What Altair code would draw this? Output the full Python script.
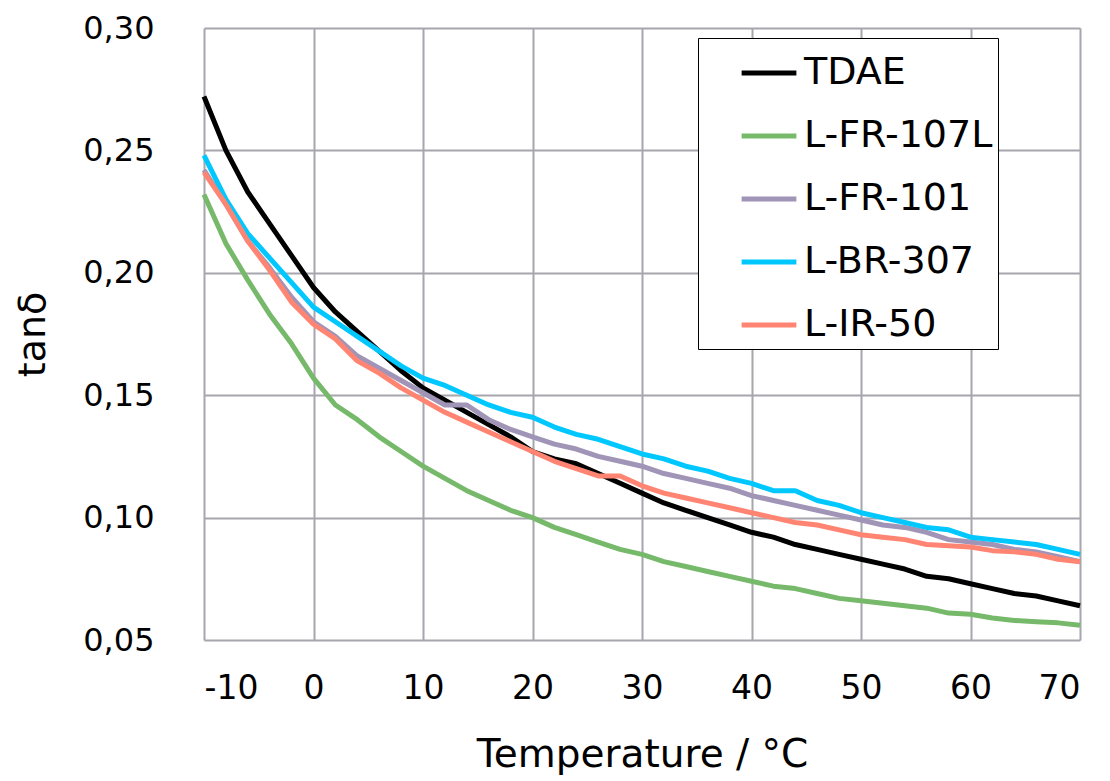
import altair as alt
import pandas as pd

temps = list(range(-10, 71, 2))

tdae = [0.272, 0.250, 0.233, 0.220, 0.207, 0.194, 0.184, 0.176, 0.168, 0.160,
        0.153, 0.148, 0.143, 0.138, 0.133, 0.127, 0.124, 0.122, 0.118, 0.114,
        0.110, 0.106, 0.103, 0.100, 0.097, 0.094, 0.092, 0.089, 0.087, 0.085,
        0.083, 0.081, 0.079, 0.076, 0.075, 0.073, 0.071, 0.069, 0.068, 0.066, 0.064]
lfr107l = [0.232, 0.212, 0.197, 0.183, 0.171, 0.157, 0.146, 0.140, 0.133, 0.127,
           0.121, 0.116, 0.111, 0.107, 0.103, 0.100, 0.096, 0.093, 0.090, 0.087,
           0.085, 0.082, 0.080, 0.078, 0.076, 0.074, 0.072, 0.071, 0.069, 0.067,
           0.066, 0.065, 0.064, 0.063, 0.061, 0.0605, 0.059, 0.058, 0.0575, 0.057, 0.056]
lfr101 = [0.242, 0.228, 0.213, 0.202, 0.190, 0.180, 0.174, 0.166, 0.161, 0.156,
          0.151, 0.146, 0.146, 0.140, 0.136, 0.133, 0.130, 0.128, 0.125, 0.123,
          0.121, 0.118, 0.116, 0.114, 0.112, 0.109, 0.107, 0.105, 0.103, 0.101,
          0.099, 0.097, 0.096, 0.094, 0.091, 0.090, 0.089, 0.087, 0.086, 0.084, 0.082]
lbr307 = [0.248, 0.230, 0.216, 0.206, 0.196, 0.186, 0.180, 0.174, 0.168, 0.162,
          0.157, 0.154, 0.150, 0.146, 0.143, 0.141, 0.137, 0.134, 0.132, 0.129,
          0.126, 0.124, 0.121, 0.119, 0.116, 0.114, 0.111, 0.111, 0.107, 0.105,
          0.102, 0.100, 0.098, 0.096, 0.095, 0.092, 0.091, 0.090, 0.089, 0.087, 0.085]
lir50 = [0.241, 0.228, 0.213, 0.201, 0.188, 0.179, 0.173, 0.164, 0.159, 0.153,
         0.148, 0.143, 0.139, 0.135, 0.131, 0.127, 0.123, 0.120, 0.117, 0.117,
         0.113, 0.110, 0.108, 0.106, 0.104, 0.102, 0.100, 0.098, 0.097, 0.095,
         0.093, 0.092, 0.091, 0.089, 0.0885, 0.088, 0.0865, 0.086, 0.085, 0.083, 0.082]

series_names = ["TDAE", "L-FR-107L", "L-FR-101", "L-BR-307", "L-IR-50"]
series_vals = [tdae, lfr107l, lfr101, lbr307, lir50]
colors = ["#000000", "#77B96B", "#A094B7", "#00C8FF", "#FF8572"]

x_ticks = list(range(-10, 71, 10))
y_ticks = [0.05, 0.10, 0.15, 0.20, 0.25, 0.30]

rows = []
for name, vals in zip(series_names, series_vals):
    for t, v in zip(temps, vals):
        rows.append({"T": t, "tan": v, "series": name})
df = pd.DataFrame(rows)

FONT = "DejaVu Sans"
PLOT_TOP = 20  # padding above plot area

chart = alt.Chart(df).mark_line(strokeWidth=5, strokeJoin="round").encode(
    x=alt.X("T:Q", scale=alt.Scale(domain=[-10, 70], nice=False, zero=False),
            axis=alt.Axis(values=x_ticks, title="Temperature / °C", grid=True,
                          domain=False, ticks=False, labelPadding=32,
                          labelExpr="'' + datum.value",
                          labelFontSize=33, titleFontSize=39, titlePadding=30,
                          labelFont=FONT, titleFont=FONT, titleFontWeight="normal",
                          labelColor="#000000", titleColor="#000000")),
    y=alt.Y("tan:Q", scale=alt.Scale(domain=[0.05, 0.30], nice=False, zero=False),
            axis=alt.Axis(values=y_ticks, title="tanδ", grid=True, domain=False,
                          ticks=False, labelPadding=50,
                          labelExpr="replace(format(datum.value, '.2f'), '.', ',')",
                          labelFontSize=32, titleFontSize=38, titlePadding=30,
                          labelFont=FONT, titleFont=FONT, titleFontWeight="normal",
                          labelColor="#000000", titleColor="#000000")),
    color=alt.Color("series:N", scale=alt.Scale(domain=series_names, range=colors),
                    sort=series_names,
                    legend=alt.Legend(title=None, orient="none", legendX=494, legendY=38 - 8 - PLOT_TOP,
                                      symbolType="stroke", symbolStrokeWidth=5,
                                      symbolSize=3000, symbolOffset=36,
                                      labelFontSize=38, labelFont=FONT, labelColor="#000000",
                                      labelOffset=5, rowPadding=14, padding=5,
                                      strokeColor="#000000", fillColor="#FFFFFF",
                                      labelLimit=400)),
    order=alt.Order("T:Q"),
).properties(
    width=876, height=640 - 8 - PLOT_TOP,
    autosize=alt.AutoSizeParams(type="none"),
    padding={"left": 196, "top": PLOT_TOP, "right": 22, "bottom": 140},
).configure_axis(
    gridColor="#A6A6AD", gridWidth=2, gridOpacity=1,
).configure_view(
    stroke=None,
)

chart.save("out.html", embed_options={"renderer": "svg", "actions": False})
